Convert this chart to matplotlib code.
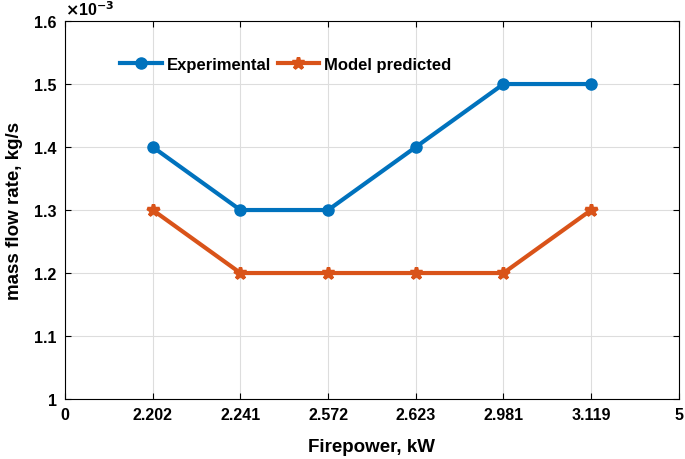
import matplotlib
matplotlib.use("Agg")
import matplotlib.pyplot as plt
from matplotlib.ticker import FuncFormatter

plt.rcParams["font.family"] = ["Liberation Sans", "DejaVu Sans"]
plt.rcParams["font.weight"] = "bold"

firepower = ["2.202", "2.241", "2.572", "2.623", "2.981", "3.119"]
experimental = [1.4e-3, 1.3e-3, 1.3e-3, 1.4e-3, 1.5e-3, 1.5e-3]
predicted = [1.3e-3, 1.2e-3, 1.2e-3, 1.2e-3, 1.2e-3, 1.3e-3]
xtick_labels = ["0"] + firepower + ["5"]

fig = plt.figure(figsize=(6.85, 4.6), dpi=100)
ax = fig.add_axes([0.095, 0.1304, 0.896, 0.8217])

pos = list(range(1, len(firepower) + 1))
ax.plot(pos, experimental, color="#0072BD", lw=3, marker="o", ms=8,
        label="Experimental")
ax.plot(pos, predicted, color="#D95319", lw=3, marker="*", ms=9, mew=2.5,
        label="Model predicted")

ax.set_xlim(0, len(xtick_labels) - 1)
ax.set_ylim(1.0e-3, 1.6e-3)
ax.set_xticks(range(len(xtick_labels)))
ax.set_xticklabels(xtick_labels)
ax.set_yticks([1.0e-3, 1.1e-3, 1.2e-3, 1.3e-3, 1.4e-3, 1.5e-3, 1.6e-3])
ax.yaxis.set_major_formatter(FuncFormatter(lambda v, p: f"{v * 1e3:g}"))
ax.tick_params(direction="in", top=True, right=True, labelsize=11.5,
               length=4, width=0.8, pad=6)
for lab in ax.get_xticklabels() + ax.get_yticklabels():
    lab.set_fontweight("bold")
ax.grid(True, color="#dddddd", lw=0.8)
ax.set_axisbelow(True)
for s in ax.spines.values():
    s.set_linewidth(0.8)

ax.set_xlabel("Firepower, kW", fontsize=13.5, fontweight="bold", labelpad=11)
ax.set_ylabel("mass flow rate, kg/s", fontsize=13.5, fontweight="bold", labelpad=8)
ax.text(0.0, 1.008, r"$\times$10$^{\mathbf{-3}}$", transform=ax.transAxes,
        fontsize=11.5, fontweight="bold", va="bottom", ha="left")

ax.legend(loc="upper left", bbox_to_anchor=(0.065, 0.945), ncol=2, frameon=False,
          handlelength=2.5, columnspacing=0.4, handletextpad=0.3,
          prop={"weight": "bold", "size": 12})

fig.savefig("out.png", dpi=100)
